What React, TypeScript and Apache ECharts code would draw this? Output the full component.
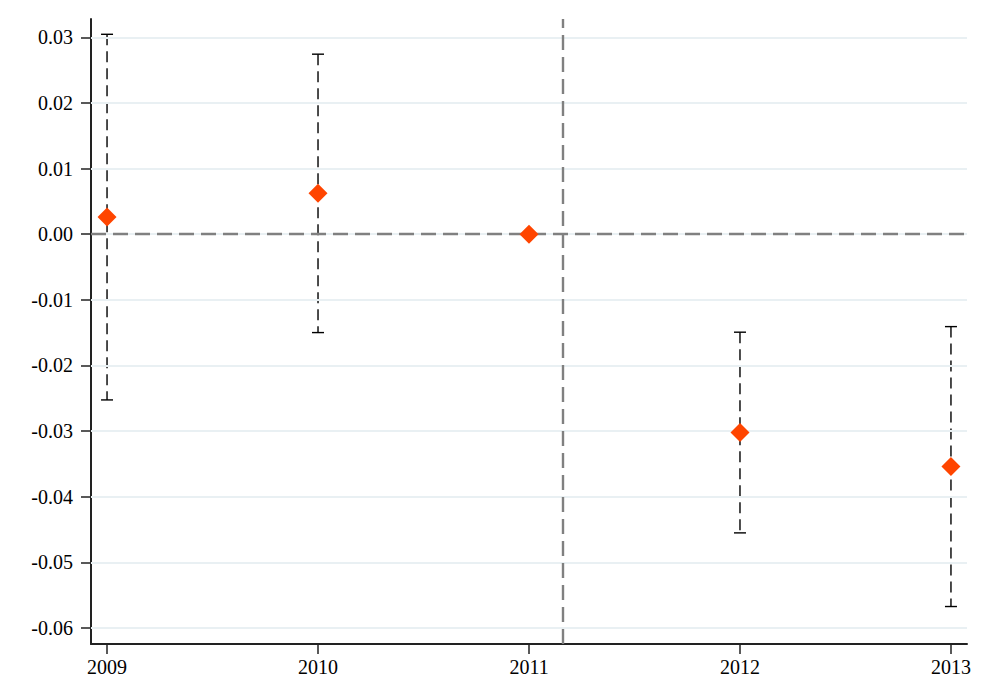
import React, { useEffect, useRef } from "react";
import * as echarts from "echarts";

const years = [2009, 2010, 2011, 2012, 2013];
const estimates = [0.00264, 0.00625, 0.0, -0.03023, -0.0354];
const upper = [0.03046, 0.02743, 0.0, -0.01493, -0.01408];
const lower = [-0.02525, -0.01499, 0.0, -0.04551, -0.05673];
const yTicks = [-0.06, -0.05, -0.04, -0.03, -0.02, -0.01, 0.0, 0.01, 0.02, 0.03];
const eventLineX = 2011.16;
const zeroLineY = 0;

const FONT = "Liberation Serif";

export default function App() {
  const ref = useRef<HTMLDivElement>(null);
  useEffect(() => {
    if (!ref.current) return;
    const chart = echarts.init(ref.current, undefined, { renderer: "svg" });
    const ciData = years.map((y, i) => [y, lower[i], upper[i]]).filter((d, i) => upper[i] !== lower[i]);
    const option: any = {
      animation: false,
      backgroundColor: "#ffffff",
      grid: { left: 91, right: 29, top: 19, bottom: 45, containLabel: false },
      xAxis: {
        type: "value",
        min: 2008.924,
        max: 2013.076,
        axisLine: { show: true, onZero: false, lineStyle: { color: "#222", width: 2 } },
        axisTick: { show: true, length: 10, lineStyle: { color: "#222", width: 1.5 }, customValues: years },
        axisLabel: {
          customValues: years,
          margin: 13,
          fontFamily: FONT,
          fontSize: 20,
          color: "#000",
          formatter: (v: number) => String(Math.round(v)),
        },
        splitLine: { show: false },
      },
      yAxis: {
        type: "value",
        min: -0.06244,
        max: 0.03279,
        axisLine: { show: true, onZero: false, lineStyle: { color: "#222", width: 2 } },
        axisTick: { show: true, length: 10, lineStyle: { color: "#222", width: 1.5 }, customValues: yTicks },
        axisLabel: {
          customValues: yTicks,
          margin: 18,
          fontFamily: FONT,
          fontSize: 20,
          color: "#000",
          formatter: (v: number) => v.toFixed(2),
        },
        splitLine: { show: false },
      },
      series: [
        {
          type: "line",
          data: [],
          silent: true,
          markLine: {
            silent: true,
            symbol: "none",
            label: { show: false },
            lineStyle: { color: "#E9F0F3", width: 2, type: "solid" },
            data: yTicks.map((v) => ({ yAxis: v })),
          },
        },
        {
          type: "line",
          data: [],
          silent: true,
          markLine: {
            silent: true,
            symbol: "none",
            label: { show: false },
            lineStyle: { color: "#808080", width: 2.4, type: [15, 7] },
            data: [{ xAxis: eventLineX }, { yAxis: zeroLineY }],
          },
        },
        {
          type: "custom",
          silent: true,
          renderItem: (params: any, api: any) => {
            const x = api.value(0);
            const lo = api.coord([x, api.value(1)]);
            const hi = api.coord([x, api.value(2)]);
            const cap = 6;
            const style = { stroke: "#000", lineWidth: 1.4 };
            return {
              type: "group",
              children: [
                {
                  type: "line",
                  shape: { x1: hi[0], y1: hi[1], x2: lo[0], y2: lo[1] },
                  style: { ...style, lineDash: [11, 6] },
                },
                { type: "line", shape: { x1: hi[0] - cap, y1: hi[1], x2: hi[0] + cap, y2: hi[1] }, style },
                { type: "line", shape: { x1: lo[0] - cap, y1: lo[1], x2: lo[0] + cap, y2: lo[1] }, style },
              ],
            };
          },
          encode: { x: 0, y: [1, 2] },
          data: ciData,
          z: 3,
        },
        {
          type: "scatter",
          symbol: "diamond",
          symbolSize: [19, 19],
          itemStyle: { color: "#FF4500", opacity: 1 },
          data: years.map((y, i) => [y, estimates[i]]),
          z: 5,
        },
      ],
    };
    chart.setOption(option);
    return () => chart.dispose();
  }, []);
  return <div ref={ref} style={{ width: 996, height: 689, position: "absolute", left: 0, top: 0 }} />;
}
